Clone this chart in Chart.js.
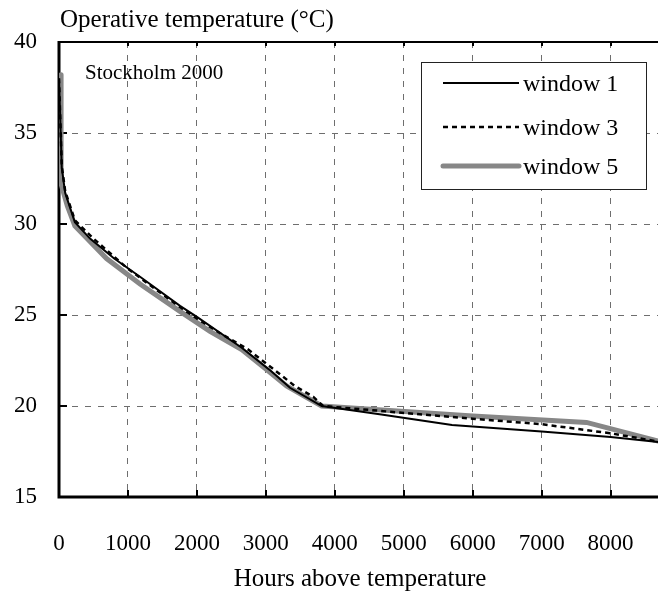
<!DOCTYPE html>
<html>
<head>
<meta charset="utf-8">
<script src="https://cdn.jsdelivr.net/npm/chart.js@4.4.1/dist/chart.umd.min.js"></script>
<style>
  html, body { margin: 0; padding: 0; background: #fff; overflow: hidden; }
  canvas { display: block; }
</style>
</head>
<body>
<canvas id="chart" width="670" height="598"></canvas>
<script>
// hours above temperature vs operative temperature, Stockholm 2000
const hours1 = [0, 40, 90, 230, 450, 800, 1175, 1755, 2000, 2650, 3050, 3350, 3810, 4650, 5700, 7000, 8000, 8760];
const temp1 = [38, 33.1, 31.7, 30.1, 29.2, 28.1, 27.1, 25.5, 24.9, 23.2, 22.0, 21.0, 20.0, 19.55, 18.95, 18.6, 18.3, 18.0];

const hours3 = [0, 40, 90, 230, 500, 980, 1370, 1730, 1920, 2335, 2745, 3085, 3420, 3690, 3830, 6000, 7000, 8000, 8760];
const temp3 = [38, 33.2, 31.8, 30.2, 29.2, 27.6, 26.5, 25.5, 25.0, 24.0, 23.1, 22.1, 21.1, 20.5, 20.0, 19.3, 19.0, 18.5, 18.0];

const hours5 = [30, 30, 120, 230, 690, 1175, 1755, 2190, 2650, 3010, 3300, 3810, 6000, 7650, 8760];
const temp5 = [38.2, 32.2, 31.0, 29.9, 28.1, 26.7, 25.2, 24.1, 23.1, 22.0, 21.1, 20.0, 19.45, 19.1, 18.0];

const seriesNames = ["window 1", "window 3", "window 5"];
const xTicks = [0, 1000, 2000, 3000, 4000, 5000, 6000, 7000, 8000];
const yTicks = [15, 20, 25, 30, 35, 40];

const FONT = "'Liberation Serif', 'Times New Roman', serif";

const toPoints = (xs, ys) => xs.map((x, i) => ({ x: x, y: ys[i] }));

const framePlugin = {
  id: "frame",
  beforeDatasetsDraw(chart) {
    const { ctx, chartArea: a, scales: { x, y } } = chart;
    ctx.save();
    ctx.strokeStyle = "#000";
    ctx.lineWidth = 2;
    yTicks.forEach((v) => {
      const py = Math.round(y.getPixelForValue(v));
      ctx.beginPath();
      ctx.moveTo(a.left, py);
      ctx.lineTo(a.left + 8, py);
      ctx.stroke();
    });
    xTicks.forEach((v) => {
      const px = Math.round(x.getPixelForValue(v));
      ctx.beginPath();
      ctx.moveTo(px, a.bottom);
      ctx.lineTo(px, a.bottom - 7);
      ctx.moveTo(px, a.top);
      ctx.lineTo(px, a.top + 4);
      ctx.stroke();
    });
    ctx.beginPath();
    ctx.moveTo(a.left, a.top);
    ctx.lineTo(a.right, a.top);
    ctx.stroke();
    ctx.lineWidth = 3;
    ctx.beginPath();
    ctx.moveTo(a.left, a.top - 1);
    ctx.lineTo(a.left, a.bottom);
    ctx.lineTo(a.right, a.bottom);
    ctx.stroke();
    ctx.restore();
  },
  afterDraw(chart) {
    const { ctx, chartArea: a } = chart;
    ctx.save();
    ctx.fillStyle = "#000";
    ctx.textBaseline = "middle";
    ctx.textAlign = "left";
    ctx.font = "25px " + FONT;
    ctx.fillText("Operative temperature (°C)", 60, 20);
    ctx.font = "21px " + FONT;
    ctx.fillText("Stockholm 2000", 85, 73);
    ctx.textAlign = "center";
    ctx.font = "25px " + FONT;
    ctx.fillText("Hours above temperature", (a.left + a.right) / 2 - 1, 579);

    // legend box
    ctx.fillStyle = "#fff";
    ctx.fillRect(421, 62, 225, 127);
    ctx.strokeStyle = "#222";
    ctx.lineWidth = 1;
    ctx.strokeRect(421.5, 62.5, 225, 127);
    const rows = [83, 127, 166];
    chart.data.datasets.forEach((ds, i) => {
      ctx.strokeStyle = ds.borderColor;
      ctx.lineWidth = ds.borderWidth;
      ctx.lineCap = ds.borderCapStyle || "butt";
      ctx.setLineDash(ds.borderDash || []);
      ctx.beginPath();
      ctx.moveTo(443, rows[i]);
      ctx.lineTo(519, rows[i]);
      ctx.stroke();
      ctx.setLineDash([]);
      ctx.fillStyle = "#000";
      ctx.textAlign = "left";
      ctx.font = "24px " + FONT;
      ctx.fillText(ds.label, 523, rows[i] + 2);
    });
    ctx.restore();
  },
};

new Chart(document.getElementById("chart"), {
  type: "line",
  data: {
    datasets: [
      {
        label: seriesNames[0],
        data: toPoints(hours1, temp1),
        borderColor: "#000",
        borderWidth: 2,
      },
      {
        label: seriesNames[1],
        data: toPoints(hours3, temp3),
        borderColor: "#000",
        borderWidth: 2.5,
        borderDash: [5, 4],
      },
      {
        label: seriesNames[2],
        data: toPoints(hours5, temp5),
        borderColor: "#878787",
        borderWidth: 5,
        borderCapStyle: "round",
      },
    ],
  },
  options: {
    responsive: false,
    animation: false,
    layout: { padding: { left: 0, top: 42, right: 7, bottom: 0 } },
    elements: {
      point: { radius: 0 },
      line: { tension: 0, fill: false },
    },
    plugins: {
      legend: { display: false },
      tooltip: { enabled: false },
    },
    scales: {
      x: {
        type: "linear",
        min: 0,
        max: 8760,
        afterFit: (s) => { s.height = 101; },
        afterBuildTicks: (s) => { s.ticks = xTicks.map((v) => ({ value: v })); },
        grid: { color: "#6e6e6e", lineWidth: 1, drawTicks: false },
        border: { display: false, dash: [6, 7] },
        ticks: {
          padding: 33,
          color: "#000",
          font: { family: FONT, size: 23 },
          maxRotation: 0,
          callback: (v) => String(v),
        },
      },
      y: {
        min: 15,
        max: 40,
        afterFit: (s) => { s.width = 59; },
        afterBuildTicks: (s) => { s.ticks = yTicks.map((v) => ({ value: v })); },
        grid: { color: "#6e6e6e", lineWidth: 1, drawTicks: false },
        border: { display: false, dash: [6, 7] },
        ticks: {
          padding: 22,
          color: "#000",
          font: { family: FONT, size: 23 },
          callback: (v) => String(v),
        },
      },
    },
  },
  plugins: [framePlugin],
});
</script>
</body>
</html>
